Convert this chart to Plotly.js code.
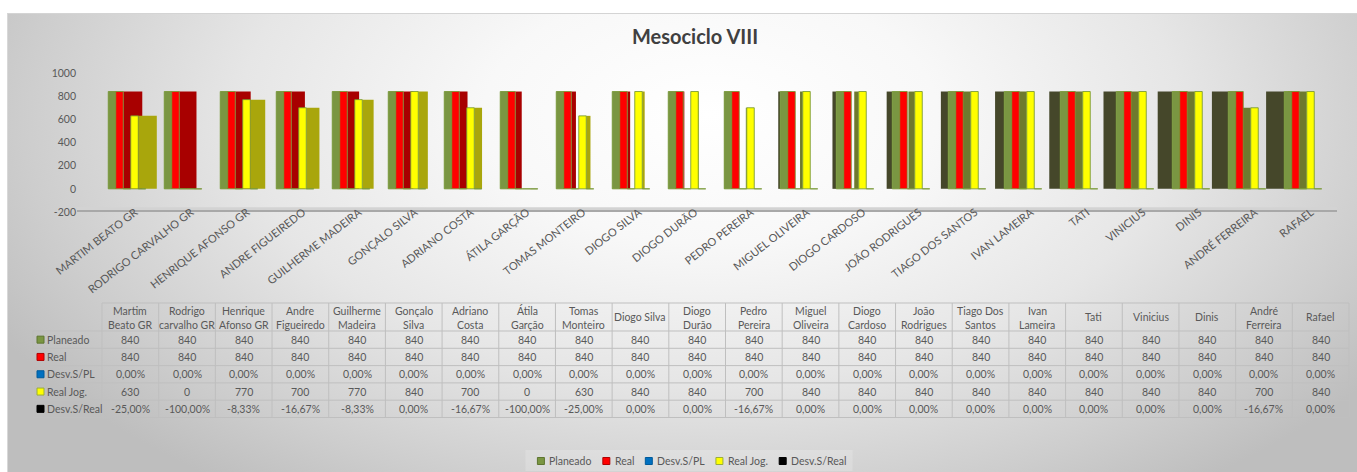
<!DOCTYPE html>
<html>
<head>
<meta charset="utf-8">
<script src="https://cdn.plot.ly/plotly-3.0.1.min.js"></script>
<style>
  html, body { margin: 0; padding: 0; background: #ffffff; }
  #wrap { position: relative; width: 1357px; height: 472px; overflow: hidden; }
  #bg {
    position: absolute; left: 7px; top: 13px; width: 1350px; height: 459px;
    border-top: 1px solid #d4d4d4; border-left: 1px solid #d8d8d8;
    background: radial-gradient(ellipse 60% 100% at 52% 22%, #ffffff 0%, #f8f8f8 28%, #e6e6e6 58%, #cdcdcd 85%, #bebebe 100%);
  }
  #chart { position: absolute; left: 0; top: 0; width: 1357px; height: 472px; }
</style>
</head>
<body>
<div id="wrap">
  <div id="bg"></div>
  <div id="chart"></div>
</div>
<script>
// ---- data ----
const categories = ["Martim Beato GR", "Rodrigo carvalho GR", "Henrique Afonso GR", "Andre Figueiredo",
  "Guilherme Madeira", "Gonçalo Silva", "Adriano Costa", "Átila Garção", "Tomas Monteiro", "Diogo Silva",
  "Diogo Durão", "Pedro Pereira", "Miguel Oliveira", "Diogo Cardoso", "João Rodrigues", "Tiago Dos Santos",
  "Ivan Lameira", "Tati", "Vinicius", "Dinis", "André Ferreira", "Rafael"];

// headings of the data table (two lines per column)
const tableHeads = ["Martim<br>Beato GR", "Rodrigo<br>carvalho GR", "Henrique<br>Afonso GR", "Andre<br>Figueiredo",
  "Guilherme<br>Madeira", "Gonçalo<br>Silva", "Adriano<br>Costa", "Átila<br>Garção", "Tomas<br>Monteiro",
  "Diogo Silva", "Diogo<br>Durão", "Pedro<br>Pereira", "Miguel<br>Oliveira", "Diogo<br>Cardoso",
  "João<br>Rodrigues", "Tiago Dos<br>Santos", "Ivan<br>Lameira", "Tati", "Vinicius", "Dinis",
  "André<br>Ferreira", "Rafael"];

const seriesNames = ["Planeado", "Real", "Desv.S/PL", "Real Jog.", "Desv.S/Real"];

const planeado = [840, 840, 840, 840, 840, 840, 840, 840, 840, 840, 840, 840, 840, 840, 840, 840, 840, 840, 840, 840, 840, 840];
const real     = [840, 840, 840, 840, 840, 840, 840, 840, 840, 840, 840, 840, 840, 840, 840, 840, 840, 840, 840, 840, 840, 840];
const desvSPL  = [0, 0, 0, 0, 0, 0, 0, 0, 0, 0, 0, 0, 0, 0, 0, 0, 0, 0, 0, 0, 0, 0];
const realJog  = [630, 0, 770, 700, 770, 840, 700, 0, 630, 840, 840, 700, 840, 840, 840, 840, 840, 840, 840, 840, 700, 840];
const desvSReal = [-0.25, -1, -0.0833, -0.1667, -0.0833, 0, -0.1667, -1, -0.25, 0, 0, -0.1667, 0, 0, 0, 0, 0, 0, 0, 0, -0.1667, 0];

const yTicks = [-200, 0, 200, 400, 600, 800, 1000];

// ---- styling ----
const FONT = 'Lato, "Open Sans", "Liberation Sans", sans-serif';
const TXT = '#595959';
const GRIDC = '#BFBFBF';
const colors = {
  plan: '#7A9642', planSide: '#45472A',
  real: '#FF0000', realSide: '#A80000',
  desvPL: '#0070C0',
  jog: '#FFFF00', jogSideNear: '#A9A60C', jogSideFar: '#6E7A2E',
  desvReal: '#000000'
};
const keyColors = [colors.plan, colors.real, colors.desvPL, colors.jog, colors.desvReal];
const keyBorders = ['#5E7530', '#B00000', '#005A9A', '#9AAE3A', '#000000'];
const EDGE = 'rgba(118,150,52,0.85)';

// page geometry (pixels)
const W = 1357, H = 472;
const px = x => x / W, py = y => 1 - y / H;
const plotLeft = 80, plotRight = 1340, plotTop = 73, plotBottom = 212;
const firstCenterPx = 127, stepPx = 56;

// clustered columns: 5 slots per category
const SLOT = 0.134;
const slotOffset = k => (k - 2.5) * SLOT;   // left edge of slot k relative to the category

// depth faces of the columns (perspective towards a vanishing column)
const DEPTH = 0.032, VANISH = 10.55;
function sideGeometry(i, k) {
  const left = i + slotOffset(k), right = left + SLOT;
  if (VANISH - right > 0) {
    const w = DEPTH * (VANISH - right);
    return { side: 'R', offset: slotOffset(k) + SLOT, width: w };
  }
  if (left - VANISH > 0) {
    const w = DEPTH * (left - VANISH);
    return { side: 'L', offset: slotOffset(k) - w, width: w };
  }
  return { side: 'N', offset: slotOffset(k), width: 0.0001 };
}

function sideTrace(values, k, keepSide, colorFn) {
  const geo = values.map((v, i) => sideGeometry(i, k));
  return {
    type: 'bar', x: categories,
    y: values.map((v, i) => keepSide.includes(geo[i].side) ? v : null),
    offset: geo.map(g => g.offset), width: geo.map(g => g.width),
    marker: { color: geo.map(g => colorFn(g.side)), line: { width: 0 } },
    showlegend: false, hoverinfo: 'skip'
  };
}

function frontTrace(name, values, k, color) {
  return {
    type: 'bar', name: name, x: categories, y: values,
    offset: slotOffset(k), width: SLOT,
    marker: { color: color, line: { color: EDGE, width: 1 } },
    showlegend: false,
    hovertemplate: '%{x}: %{y}<extra>' + name + '</extra>'
  };
}

const traces = [
  sideTrace(real, 1, ['R'], () => colors.realSide),
  sideTrace(realJog, 3, ['R', 'L'], s => s === 'R' ? colors.jogSideNear : colors.jogSideFar),
  sideTrace(planeado, 0, ['L'], () => colors.planSide),
  frontTrace(seriesNames[0], planeado, 0, colors.plan),
  frontTrace(seriesNames[1], real, 1, colors.real),
  frontTrace(seriesNames[2], desvSPL, 2, colors.desvPL),
  frontTrace(seriesNames[3], realJog, 3, colors.jog),
  frontTrace(seriesNames[4], desvSReal, 4, colors.desvReal)
];

const shapes = [];
const annotations = [];

// floor of the column area
shapes.push({ type: 'rect', xref: 'paper', yref: 'y', x0: px(77), x1: px(1337), y0: -182, y1: -160,
  fillcolor: '#d3d3d3', line: { width: 0 }, layer: 'below' });
shapes.push({ type: 'rect', xref: 'paper', yref: 'y', x0: px(77), x1: px(1337), y0: -205, y1: -182,
  fillcolor: '#a8a8a8', line: { width: 0 }, layer: 'below' });

// ---- data table under the chart ----
const pct = v => (v * 100).toFixed(2).replace('.', ',') + '%';
const tableRows = [
  planeado.map(String), real.map(String), desvSPL.map(pct), realJog.map(String), desvSReal.map(pct)
];
const tLeft = 33, tKeyRight = 102, tRight = 1349, tTop = 303, tHeadBottom = 331, rowH = 17.3;
const tBottom = tHeadBottom + rowH * seriesNames.length;
const colW = (tRight - tKeyRight) / categories.length;
const line = (x0, y0, x1, y1) => shapes.push({ type: 'line', xref: 'paper', yref: 'paper',
  x0: px(x0), y0: py(y0), x1: px(x1), y1: py(y1), line: { color: GRIDC, width: 1 } });

line(tKeyRight, tTop, tRight, tTop);
line(tLeft, tHeadBottom, tLeft, tBottom);
for (let r = 0; r <= seriesNames.length; r++) line(tLeft, tHeadBottom + r * rowH, tRight, tHeadBottom + r * rowH);
for (let c = 0; c <= categories.length; c++) line(tKeyRight + c * colW, tTop, tKeyRight + c * colW, tBottom);

const cellFont = { family: FONT, size: 10.5, color: TXT };
const txt = (text, x, y, xanchor) => annotations.push({
  text: text, xref: 'paper', yref: 'paper', x: px(x), y: py(y), xanchor: xanchor || 'center',
  yanchor: 'middle', showarrow: false, font: cellFont
});

categories.forEach((c, i) => {
  const cx = tKeyRight + (i + 0.5) * colW;
  const parts = tableHeads[i].split('<br>');
  if (parts.length === 2) {
    txt(parts[0], cx, tTop + 7.5);
    txt(parts[1], cx, tTop + 21.5);
  } else {
    txt(parts[0], cx, (tTop + tHeadBottom) / 2);
  }
  tableRows.forEach((row, r) => txt(row[i], cx, tHeadBottom + (r + 0.5) * rowH));
});
seriesNames.forEach((n, r) => {
  const cy = tHeadBottom + (r + 0.5) * rowH;
  shapes.push({ type: 'rect', xref: 'paper', yref: 'paper', x0: px(37), x1: px(44), y0: py(cy - 3.5), y1: py(cy + 3.5),
    fillcolor: keyColors[r], line: { color: keyBorders[r], width: 1 } });
  txt(n, 45, cy, 'left');
});

// ---- legend row at the bottom ----
const legFont = { family: FONT, size: 10.5, color: TXT };
const measure = (() => {
  const ctx = document.createElement('canvas').getContext('2d');
  ctx.font = '10.5px Lato';
  return s => ctx.measureText(s).width;
})();
const legKey = 7, legPadKey = 3, legGap = 13;
const legWidth = seriesNames.reduce((a, n) => a + legKey + legPadKey + measure(n), 0) + legGap * (seriesNames.length - 1);
let lx = 691 - legWidth / 2;
const ly = 461;
shapes.push({ type: 'rect', xref: 'paper', yref: 'paper', x0: px(lx - 12), x1: px(lx + legWidth + 8), y0: py(471), y1: py(450),
  fillcolor: 'rgba(255,255,255,0.18)', line: { width: 0 }, layer: 'below' });
seriesNames.forEach((n, r) => {
  shapes.push({ type: 'rect', xref: 'paper', yref: 'paper', x0: px(lx), x1: px(lx + legKey), y0: py(ly - 3.5), y1: py(ly + 3.5),
    fillcolor: keyColors[r], line: { color: keyBorders[r], width: 1 } });
  annotations.push({ text: n, xref: 'paper', yref: 'paper', x: px(lx + legKey + legPadKey), y: py(ly),
    xanchor: 'left', yanchor: 'middle', showarrow: false, font: legFont });
  lx += legKey + legPadKey + measure(n) + legGap;
});

const xRange = [(plotLeft - firstCenterPx) / stepPx, (plotRight - firstCenterPx) / stepPx];

const layout = {
  width: W, height: H,
  margin: { l: 0, r: 0, t: 0, b: 0 },
  paper_bgcolor: 'rgba(0,0,0,0)', plot_bgcolor: 'rgba(0,0,0,0)',
  font: { family: FONT, color: TXT },
  barmode: 'overlay',
  showlegend: false,
  title: {
    text: '<b>Mesociclo VIII</b>', font: { family: FONT, size: 20, color: '#404040' },
    x: px(695), xanchor: 'center', y: py(37), yanchor: 'middle', xref: 'paper', yref: 'container'
  },
  xaxis: {
    type: 'category', domain: [px(plotLeft), px(plotRight)], range: xRange,
    showgrid: false, zeroline: false, showline: false, ticks: '',
    tickmode: 'array', tickvals: categories, ticktext: categories.map(c => c.toUpperCase()),
    tickangle: -38, tickfont: { family: FONT, size: 11, color: TXT },
    ticklabelshift: 8, ticklabelstandoff: -9
  },
  yaxis: {
    domain: [py(plotBottom), py(plotTop)], range: [-200, 1000],
    tickmode: 'array', tickvals: yTicks, ticktext: yTicks.map(String),
    showgrid: false, zeroline: false, showline: false, ticks: '',
    tickfont: { family: FONT, size: 10.5, color: TXT }, ticklabelstandoff: 3
  },
  shapes: shapes,
  annotations: annotations
};

Plotly.newPlot('chart', traces, layout, { displayModeBar: false, staticPlot: true });
</script>
</body>
</html>
